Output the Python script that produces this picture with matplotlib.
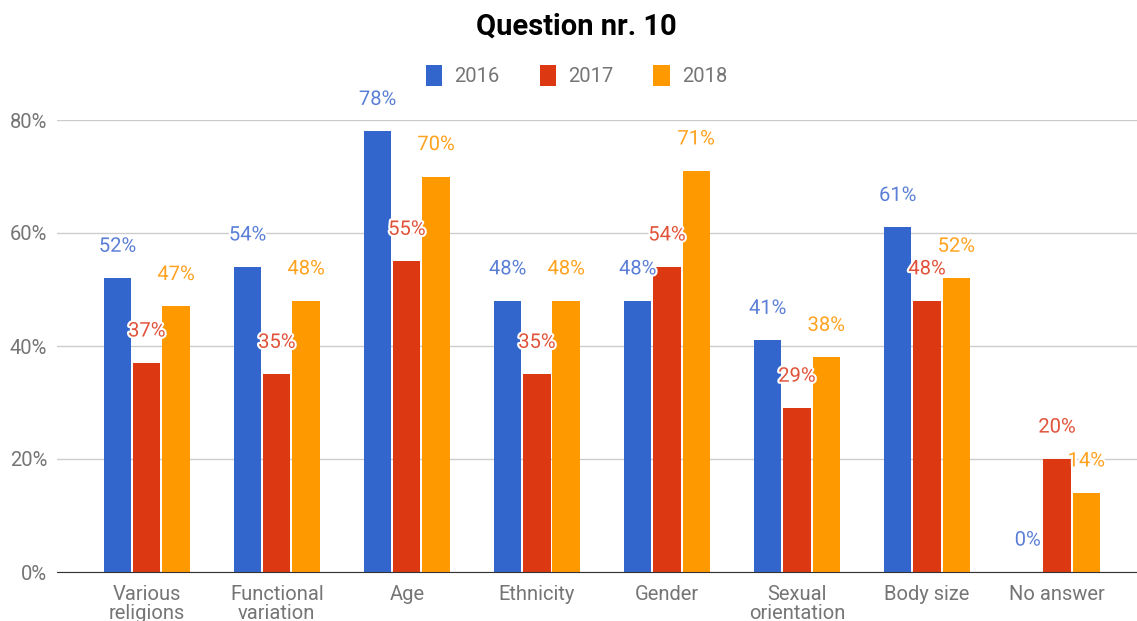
import numpy as np
import matplotlib
matplotlib.use("Agg")
import matplotlib.pyplot as plt
from matplotlib.patches import Patch
from matplotlib import patheffects as pe

plt.rcParams['font.family'] = ['Roboto', 'DejaVu Sans']

categories = ['Various\nreligions', 'Functional\nvariation', 'Age', 'Ethnicity',
              'Gender', 'Sexual\norientation', 'Body size', 'No answer']
years = ['2016', '2017', '2018']
vals_2016 = [52, 54, 78, 48, 48, 41, 61, 0]
vals_2017 = [37, 35, 55, 35, 54, 29, 48, 20]
vals_2018 = [47, 48, 70, 48, 71, 38, 52, 14]
colors = ['#3366cc', '#dc3912', '#ff9900']
label_colors = ['#5b7fd6', '#e0533a', '#ffa21f']

fig = plt.figure(figsize=(11.37, 6.21), dpi=100)
ax = fig.add_axes([57 / 1137, 49 / 621, 1080 / 1137, 452 / 621])

x = np.arange(len(categories))
w = 0.21
series = [vals_2016, vals_2017, vals_2018]
for i, vals in enumerate(series):
    xs = x + (i - 1) * (w + 0.015)
    ax.bar(xs, vals, width=w, color=colors[i], zorder=3)
    for xi, v in zip(xs, vals):
        ax.annotate(f'{v}%', (xi, v), xytext=(0, 23), textcoords='offset points',
                    ha='center', va='center', fontsize=14.5, color=label_colors[i],
                    zorder=5, annotation_clip=False,
                    path_effects=[pe.withStroke(linewidth=3, foreground='white')])

ax.set_xlim(-0.69, 7.615)
ax.set_ylim(0, 80)
ax.set_yticks([0, 20, 40, 60, 80])
ax.set_yticklabels([f'{t}%' for t in [0, 20, 40, 60, 80]])
ax.set_xticks(x)
ax.set_xticklabels(categories, linespacing=1.05)
ax.tick_params(axis='both', length=0, labelsize=14.5, colors='#757575')
ax.tick_params(axis='x', pad=9)
ax.tick_params(axis='y', pad=7)
ax.grid(axis='y', color='#cccccc', linewidth=1, zorder=0)
for s in ['top', 'right', 'left']:
    ax.spines[s].set_visible(False)
ax.spines['bottom'].set_color('#333333')
ax.spines['bottom'].set_zorder(4)

fig.text(0.507, 0.958, 'Question nr. 10', ha='center', va='center',
         fontsize=21, fontweight='bold', color='#000000')

handles = [Patch(facecolor=c, label=y) for c, y in zip(colors, years)]
fig.legend(handles=handles, loc='center', bbox_to_anchor=(0.507, 0.878), ncol=3,
           frameon=False, fontsize=14.5, labelcolor='#757575',
           handlelength=0.8, handleheight=1.2, handletextpad=0.6, columnspacing=2.0)

fig.savefig('out.png', dpi=100)
